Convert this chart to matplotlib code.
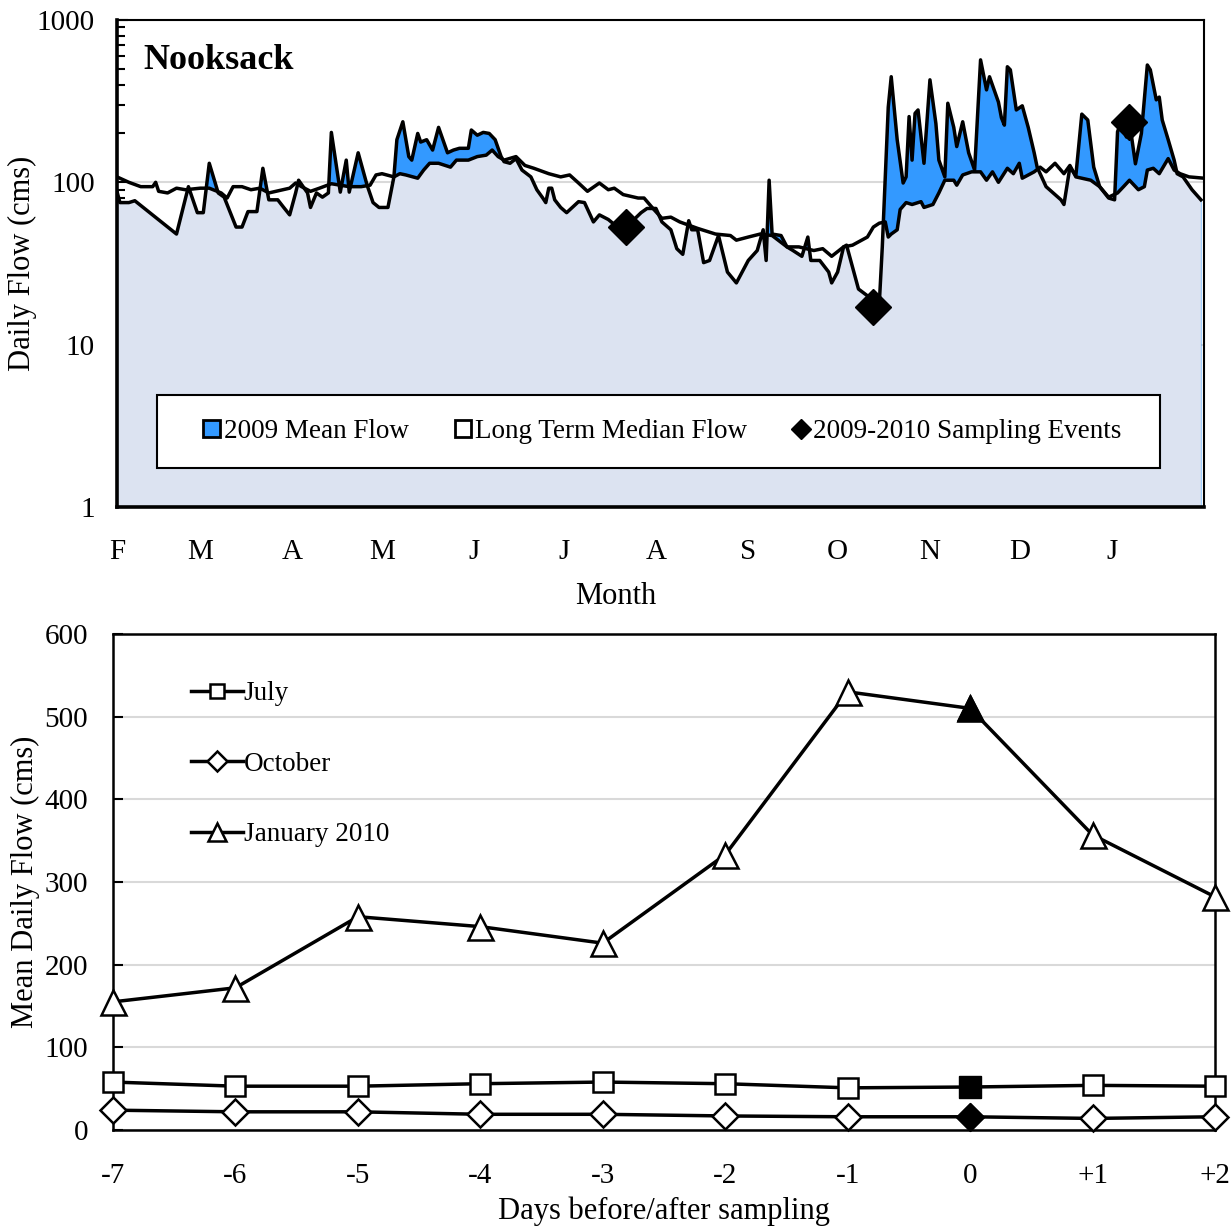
import numpy as np
import matplotlib
matplotlib.use("Agg")
import matplotlib.pyplot as plt
from matplotlib.patches import Patch, Polygon, Rectangle
from matplotlib.lines import Line2D

plt.rcParams["font.family"] = ["Liberation Serif", "DejaVu Serif"]

# ---- top panel: daily flow, day 0 = 1 Feb 2009 ----
median_pts = [(0, 108), (4, 100), (8, 94), (12, 94), (13, 100), (14, 88), (17, 86), (20, 92), (23, 90),
              (28, 92), (31, 92), (35, 86), (37, 80), (39, 94), (42, 94), (45, 90), (48, 92), (51, 86),
              (58, 92), (60, 99), (62, 94), (65, 88), (68, 92), (72, 98), (78, 94), (82, 94), (85, 96),
              (87, 111), (89, 113), (93, 108), (95, 113), (97, 111), (101, 106), (103, 119), (105, 131),
              (108, 131), (112, 124), (114, 137), (118, 137), (121, 144), (124, 147), (126, 158),
              (128, 144), (130, 137), (134, 144), (137, 127), (140, 122), (145, 113), (149, 108),
              (152, 111), (155, 99), (158, 88), (162, 99), (165, 90), (167, 92), (170, 84), (175, 80),
              (177, 80), (180, 69), (183, 60), (186, 61), (189, 57), (195, 52), (201, 48), (206, 47),
              (208, 44), (212, 46), (216, 48), (220, 47), (225, 40), (229, 40), (234, 38), (237, 39),
              (240, 35), (244, 40), (247, 41), (252, 46), (254, 53), (256, 56), (258, 57), (259, 46),
              (260, 48), (262, 51), (263, 68), (265, 75), (267, 73), (270, 76), (271, 70), (274, 73),
              (276, 86), (278, 103), (281, 103), (282, 96), (284, 111), (287, 116), (290, 116),
              (292, 103), (294, 116), (296, 100), (299, 122), (301, 113), (303, 131), (304, 106),
              (308, 116), (310, 124), (312, 116), (315, 131), (318, 113), (320, 127), (322, 108),
              (327, 103), (330, 94), (333, 81), (336, 86), (338, 94), (340, 103), (343, 90), (345, 94),
              (346, 119), (348, 122), (350, 113), (353, 140), (355, 119), (357, 113), (360, 108),
              (365, 106)]

mean_pts = [(0, 88), (1, 75), (4, 75), (6, 77), (20, 48), (24, 94), (27, 65), (29, 65), (31, 131),
            (34, 86), (36, 81), (40, 53), (42, 53), (44, 66), (47, 66), (49, 122), (51, 78), (54, 78),
            (56, 70), (58, 63), (60, 86), (61, 103), (64, 86), (65, 70), (67, 86), (69, 81), (71, 86),
            (72, 203), (75, 87), (77, 137), (78, 87), (81, 152), (84, 96), (86, 75), (88, 70), (91, 70),
            (93, 108), (94, 183), (96, 236), (98, 144), (99, 137), (101, 200), (102, 177), (104, 183),
            (106, 158), (108, 218), (111, 152), (113, 158), (115, 162), (118, 162), (119, 210),
            (121, 195), (123, 203), (125, 200), (127, 183), (129, 144), (130, 134), (132, 131),
            (134, 140), (136, 119), (139, 108), (141, 90), (143, 80), (144, 75), (145, 92), (146, 92),
            (147, 78), (149, 70), (151, 65), (155, 76), (157, 75), (160, 57), (162, 63), (165, 59),
            (167, 55), (171, 53), (176, 65), (178, 69), (181, 69), (183, 57), (186, 51), (188, 39),
            (190, 36), (192, 58), (193, 51), (195, 51), (197, 32), (199, 33), (202, 47), (205, 28),
            (208, 24), (212, 33), (215, 38), (217, 51), (218, 33), (219, 103), (220, 48), (223, 47),
            (225, 40), (227, 38), (230, 35), (232, 46), (233, 33), (236, 33), (239, 28), (240, 24),
            (242, 28), (244, 40), (245, 41), (247, 30), (249, 22), (252, 20), (254, 17), (256, 18),
            (257, 40), (259, 290), (260, 447), (262, 183), (264, 99), (265, 108), (266, 254),
            (267, 137), (268, 266), (269, 279), (271, 131), (273, 428), (275, 230), (276, 137),
            (278, 108), (279, 307), (281, 218), (282, 166), (284, 236), (286, 152), (288, 119),
            (290, 568), (292, 371), (293, 447), (296, 312), (297, 250), (298, 225), (299, 515),
            (300, 493), (302, 279), (304, 296), (306, 218), (308, 152), (309, 124), (312, 94),
            (317, 78), (318, 73), (320, 124), (322, 110), (324, 263), (326, 242), (328, 124),
            (330, 94), (333, 80), (335, 78), (336, 205), (337, 230), (339, 190), (340, 235),
            (341, 175), (342, 130), (344, 200), (346, 528), (347, 493), (349, 322), (350, 335),
            (351, 242), (353, 183), (355, 137), (356, 113), (358, 108), (361, 90), (364, 78)]

sample_day = [171, 254, 340]
sample_flow = [53, 17, 235]

month_start = [0, 28, 59, 89, 120, 150, 181, 212, 242, 273, 303, 334]
month_lab = ["F", "M", "A", "M", "J", "J", "A", "S", "O", "N", "D", "J"]

# ---- bottom panel: flow around the sampling days ----
rel_day = [-7, -6, -5, -4, -3, -2, -1, 0, 1, 2]
rel_lab = ["-7", "-6", "-5", "-4", "-3", "-2", "-1", "0", "+1", "+2"]
july = [58, 53, 53, 56, 58, 56, 51, 52, 54, 53]
october = [24, 22, 22, 19, 19, 17, 16, 16, 14, 16]
january = [155, 172, 258, 246, 226, 333, 530, 510, 357, 282]

median_day, median_flow = map(np.array, zip(*median_pts))
mean_day, mean_flow = map(np.array, zip(*mean_pts))

blue = "#3399FF"
pale = "#DCE3F1"
grid_c = "#D9D9D9"

fig = plt.figure(figsize=(12.31, 12.26), dpi=100)

# ================= top =================
ax1 = fig.add_axes([0.095, 0.5865, 0.883, 0.3972])
ax1.set_yscale("log")
ax1.set_xlim(0, 365)
ax1.set_ylim(1, 1000)
ax1.set_axisbelow(True)
ax1.yaxis.grid(True, which="major", color=grid_c, lw=1.5)

ax1.fill_between(mean_day, mean_flow, 1, color=blue, lw=0, zorder=1)
clip = Polygon(np.column_stack([np.r_[mean_day[0], mean_day, mean_day[-1]],
                                np.r_[1, mean_flow, 1]]),
               closed=True, transform=ax1.transData)
pale_fill = ax1.fill_between(median_day, median_flow, 1, color=pale, lw=0, zorder=1.5)
pale_fill.set_clip_path(clip)

ax1.plot(median_day, median_flow, color="black", lw=2.5, zorder=3)
ax1.plot(mean_day, mean_flow, color="black", lw=2.5, zorder=3)
ax1.plot(sample_day, sample_flow, "D", color="black", ms=18, zorder=4)

ax1.set_yticks([1, 10, 100, 1000])
ax1.set_yticklabels(["1", "10", "100", "1000"])
ax1.set_xticks(range(0, 366, 30))
ax1.set_xticklabels([])
ax1.tick_params(axis="both", which="both", direction="in", labelsize=21)
ax1.tick_params(axis="y", which="major", length=8, width=1.5, pad=16)
ax1.tick_params(axis="y", which="minor", length=6, width=1.5, labelleft=False)
ax1.tick_params(axis="x", which="major", length=8, width=1.2)
for d, lab in zip(month_start, month_lab):
    ax1.text(d, -0.092, lab, transform=ax1.get_xaxis_transform(), fontsize=21,
             ha="center", va="center")
for side in ["left", "bottom"]:
    ax1.spines[side].set_linewidth(2.6)
for side in ["top", "right"]:
    ax1.spines[side].set_linewidth(1.5)

ax1.set_ylabel("Daily Flow (cms)", fontsize=22)
ax1.yaxis.set_label_coords(-0.074, 0.5)
ax1.set_xlabel("Month", fontsize=22)
ax1.xaxis.set_label_coords(0.459, -0.155)
ax1.text(0.024, 0.916, "Nooksack", transform=ax1.transAxes, fontsize=26,
         fontweight="bold", va="center", ha="left")

ax1.add_patch(Rectangle((0.0368, 0.080), 0.923, 0.15, transform=ax1.transAxes,
                        facecolor="white", edgecolor="black", lw=1.5, zorder=4.5))
handles = [Patch(facecolor=blue, edgecolor="black", lw=2),
           Patch(facecolor="white", edgecolor="black", lw=2),
           Line2D([], [], marker="D", color="black", ls="", ms=10)]
leg = ax1.legend(handles, ["2009 Mean Flow", "Long Term Median Flow", "2009-2010 Sampling Events"],
                 loc="center", bbox_to_anchor=(0.502, 0.155), ncol=3, fontsize=19.5,
                 frameon=False, handlelength=0.6, handleheight=0.6, handletextpad=0.15,
                 columnspacing=1.7, borderpad=0)
leg.set_zorder(5)

# ================= bottom =================
ax2 = fig.add_axes([0.0918, 0.0783, 0.8952, 0.4046])
ax2.set_xlim(-7, 2)
ax2.set_ylim(0, 600)
ax2.set_axisbelow(True)
ax2.yaxis.grid(True, color=grid_c, lw=1.5)

ax2.plot(rel_day, july, color="black", lw=2.5, marker="s", ms=14, mfc="white", mec="black",
         mew=1.8, clip_on=False, zorder=3, label="July")
ax2.plot(rel_day, october, color="black", lw=2.5, marker="D", ms=13, mfc="white", mec="black",
         mew=1.8, clip_on=False, zorder=3, label="October")
ax2.plot(rel_day, january, color="black", lw=2.5, marker="^", ms=18, mfc="white", mec="black",
         mew=1.8, clip_on=False, zorder=3, label="January 2010")

i0 = rel_day.index(0)
ax2.plot(0, july[i0], "s", color="black", ms=16, zorder=4, clip_on=False)
ax2.plot(0, october[i0], "D", color="black", ms=14, zorder=4, clip_on=False)
ax2.plot(0, january[i0], "^", color="black", ms=19, zorder=4, clip_on=False)

ax2.set_xticks(rel_day)
ax2.set_xticklabels(rel_lab)
ax2.set_yticks(range(0, 601, 100))
ax2.tick_params(axis="x", length=0, pad=24, labelsize=21)
ax2.tick_params(axis="y", direction="in", length=7, width=1.5, pad=18, labelsize=21)
for side in ax2.spines:
    ax2.spines[side].set_linewidth(1.8)

ax2.set_ylabel("Mean Daily Flow (cms)", fontsize=22)
ax2.yaxis.set_label_coords(-0.066, 0.5)
ax2.set_xlabel("Days before/after sampling", fontsize=22)
ax2.xaxis.set_label_coords(0.5, -0.135)

ax2.legend(loc="upper left", bbox_to_anchor=(0.061, 0.927), frameon=False, fontsize=19.5,
           handlelength=1.9, handletextpad=0.05, labelspacing=1.68, borderaxespad=0,
           markerscale=0.75)

fig.savefig("out.png", dpi=100)
